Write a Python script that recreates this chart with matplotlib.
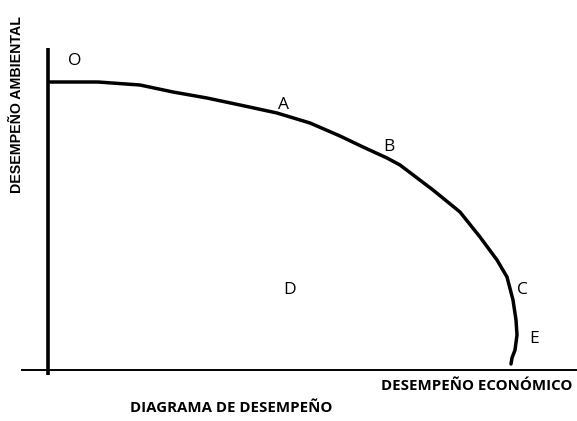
import matplotlib.pyplot as plt

# curva de desempeño (coordenadas en píxeles)
curva_x = [50, 98, 140, 173, 207, 240, 277, 310, 340, 363, 387, 400, 433, 460,
           480, 497, 507, 513, 516, 517, 515, 512, 511]
curva_y = [82, 82, 85, 92, 98, 105, 113, 123, 136, 147, 158, 165, 190, 212,
           237, 260, 277, 300, 320, 335, 350, 358, 364]

puntos = ['O', 'A', 'B', 'C', 'D', 'E']
puntos_x = [75, 283, 389, 522, 290, 534]
puntos_y = [61, 105, 147, 290, 290, 339]

fig = plt.figure(figsize=(5.77, 4.21), dpi=100)
ax = fig.add_axes([0, 0, 1, 1])
ax.set_xlim(0, 577)
ax.set_ylim(421, 0)
ax.axis('off')

# ejes dibujados a mano
ax.plot([48, 48], [48, 375], color='black', lw=2.6, solid_capstyle='butt')
ax.plot([22, 577], [370, 370], color='black', lw=1.4)

ax.plot(curva_x, curva_y, color='black', lw=2.5, solid_capstyle='round', solid_joinstyle='round')

for p, x, y in zip(puntos, puntos_x, puntos_y):
    ax.text(x, y, p, fontsize=12.5, family='Open Sans', ha='center', va='center')

ax.text(477, 386, 'DESEMPEÑO ECONÓMICO', fontsize=10.8, fontweight='bold',
        family='Open Sans', ha='center', va='center')
ax.text(231, 408, 'DIAGRAMA DE DESEMPEÑO', fontsize=10.8, fontweight='bold',
        family='Open Sans', ha='center', va='center')
ax.text(17, 105, 'DESEMPEÑO AMBIENTAL', fontsize=10.2, fontweight='bold',
        family='Liberation Sans', rotation=90, ha='center', va='center')

fig.savefig('out.png', dpi=100)
